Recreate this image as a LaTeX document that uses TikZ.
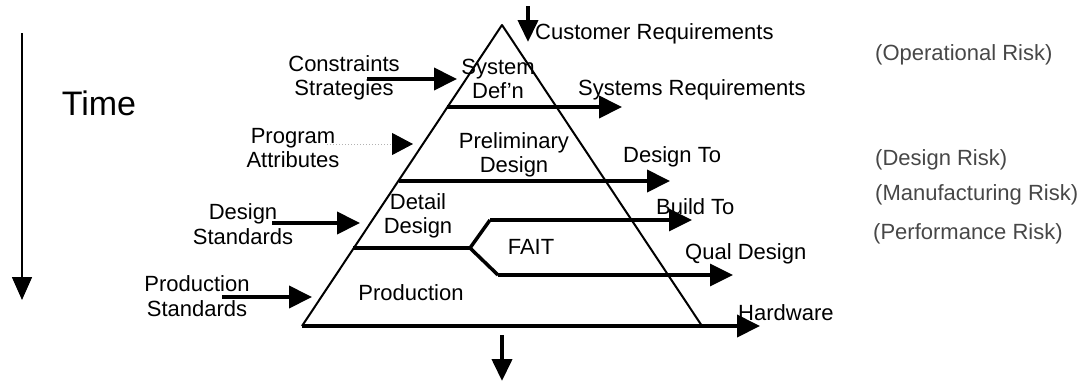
\documentclass[tikz,border=0pt]{standalone}
\usepackage{fontspec}
\setmainfont{Liberation Sans}
\usetikzlibrary{arrows.meta}
\begin{document}
\begin{tikzpicture}[x=1pt,y=-1pt,
  lbl/.style={inner sep=0pt, font=\fontsize{22}{24.5}\selectfont, text=black},
  two/.style={lbl, align=center},
  risk/.style={lbl, text=black!72},
  side/.style={line width=2pt, line join=round},
  flow/.style={line width=4pt, -{Triangle[length=23pt,width=22pt]}},
  fait/.style={line width=3.5pt, line join=round},
]
\useasboundingbox (0,0) rectangle (1086,383);

% pyramid
\coordinate (apex) at (502,25);
\coordinate (bl) at (302,326);
\coordinate (br) at (702,326);
\draw[side] (bl) -- (apex) -- (br);

% output arrows
\coordinate (o1s) at (447,107); \coordinate (o1e) at (622,107);
\coordinate (o2s) at (399,181); \coordinate (o2e) at (670,181);
\coordinate (fl) at (353,248);  \coordinate (fs) at (470,248);
\coordinate (fu) at (490,220);  \coordinate (fue) at (692,220);
\coordinate (fd) at (498,275);  \coordinate (fde) at (733,275);
\coordinate (bse) at (760,326);
\draw[flow] (o1s) -- (o1e);
\draw[flow] (o2s) -- (o2e);
\draw[fait] (fl) -- (fs);
\draw[fait] (fs) -- (fu);
\draw[fait] (fs) -- (fd);
\draw[flow, line width=3.5pt] (fu) -- (fue);
\draw[flow, line width=3.5pt] (fd) -- (fde);
\draw[flow] (bl) -- (bse);

% input arrows
\coordinate (i1s) at (367,79);  \coordinate (i1e) at (457,79);
\coordinate (i2s) at (327,144); \coordinate (i2e) at (413,144);
\coordinate (i3s) at (272,223); \coordinate (i3e) at (360,223);
\coordinate (i4s) at (222,297); \coordinate (i4e) at (312,297);
\draw[flow] (i1s) -- (i1e);
\draw[line width=1pt, black!30, dotted, -{Triangle[length=21pt,width=22pt,color=black,fill=black]}] (i2s) -- (i2e);
\draw[flow] (i3s) -- (i3e);
\draw[flow] (i4s) -- (i4e);

% top and bottom arrows
\coordinate (ts) at (528,6);   \coordinate (te) at (528,42);
\coordinate (bs) at (502,335); \coordinate (be) at (502,381);
\draw[line width=4pt, -{Triangle[length=22pt,width=20pt]}] (ts) -- (te);
\draw[line width=4pt, -{Triangle[length=22pt,width=20pt]}] (bs) -- (be);

% time arrow
\coordinate (tms) at (22,33); \coordinate (tme) at (22,300);
\draw[line width=1.5pt, -{Triangle[length=23pt,width=20pt]}] (tms) -- (tme);
\node[lbl, font=\fontsize{34}{38}\selectfont] (time) at (99,103) {Time};

% labels inside the pyramid
\node[two] (sysdef) at (498,79) {System\\Def'n};
\node[two] (prelim) at (514,155) {Preliminary\\Design};
\node[two] (detail) at (418,216) {Detail\\Design};
\node[lbl] (faitl) at (531,247) {FAIT};
\node[lbl] (prod) at (411,293) {Production};

% input labels
\node[two] (constr) at (344,78) {Constraints\\Strategies};
\node[two] (progr) at (293,148) {Program\\Attributes};
\node[two] (dstd) at (243,224) {Design\\Standards};
\node[two] (pstd) at (197,296) {Production\\Standards};

% output labels
\node[lbl, anchor=base west] (custreq) at (535,39) {Customer Requirements};
\node[lbl, anchor=base west] (sysreq) at (578,95) {Systems Requirements};
\node[lbl, anchor=base west] (desto) at (623,162) {Design To};
\node[lbl, anchor=base west] (buildto) at (656,214) {Build To};
\node[lbl, anchor=base west] (qual) at (685,259) {Qual Design};
\node[lbl, anchor=base west] (hw) at (738,320) {Hardware};

% risk labels
\node[risk, anchor=base west] (r1) at (875,60) {(Operational Risk)};
\node[risk, anchor=base west] (r2) at (875,165) {(Design Risk)};
\node[risk, anchor=base west] (r3) at (875,200) {(Manufacturing Risk)};
\node[risk, anchor=base west] (r4) at (873,239) {(Performance Risk)};
\end{tikzpicture}
\end{document}
